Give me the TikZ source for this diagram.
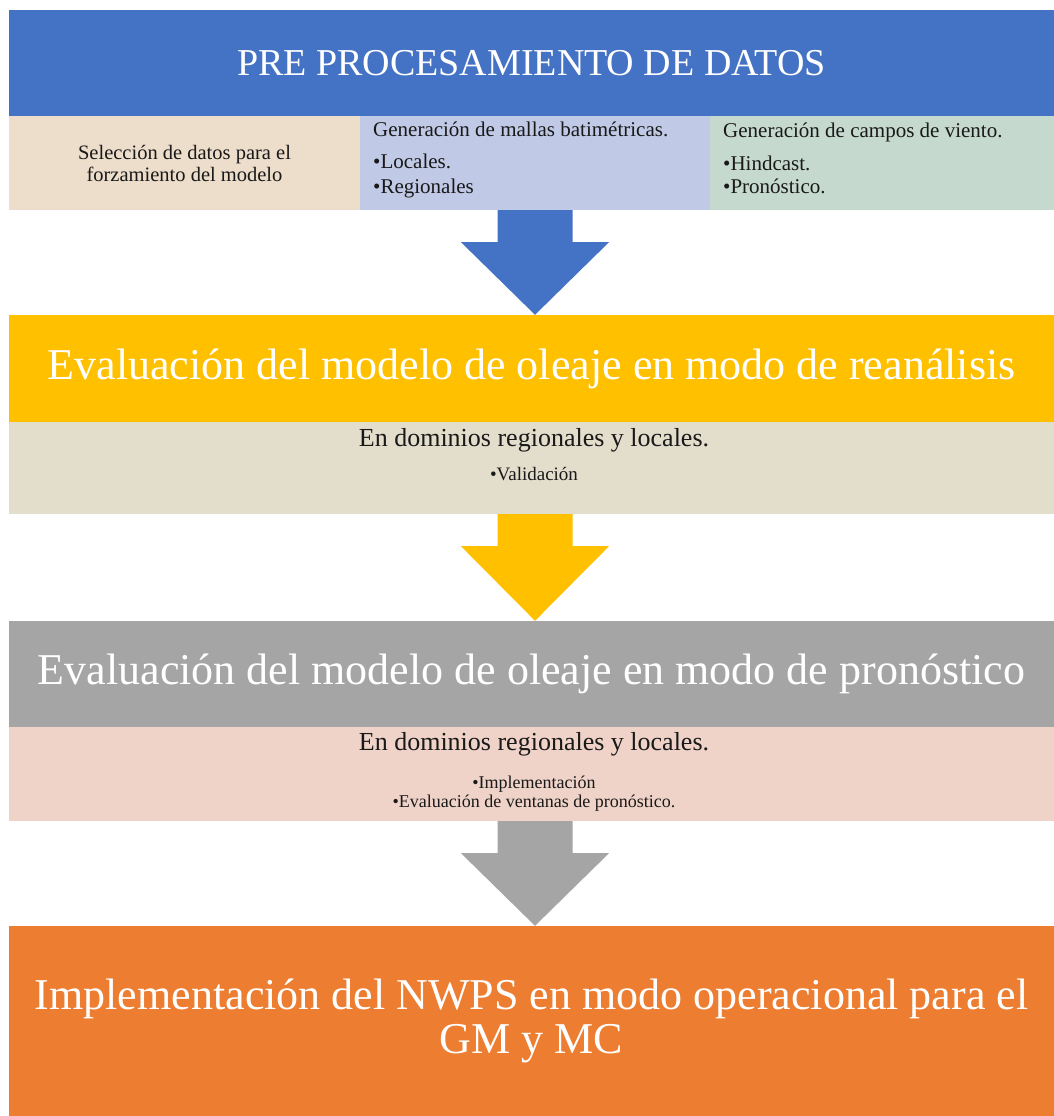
\documentclass[tikz,border=0pt]{standalone}
\usepackage{fontspec}
\setmainfont{Liberation Serif}
\usepackage{tikz}
\usetikzlibrary{calc}
\definecolor{azul}{HTML}{4472C4}
\definecolor{amarillo}{HTML}{FFC000}
\definecolor{gris}{HTML}{A5A5A5}
\definecolor{naranja}{HTML}{ED7D31}
\definecolor{beige}{HTML}{EDDDCB}
\definecolor{lavanda}{HTML}{C0CAE6}
\definecolor{verde}{HTML}{C6D9CF}
\definecolor{arena}{HTML}{E3DECB}
\definecolor{rosa}{HTML}{F0D3C8}
\newcommand{\tam}[2]{\fontsize{#1}{#2}\selectfont}
\newcommand{\flecha}[3]{\fill[#1] ($(#2)+(-37.5,0)$) -- ($(#2)+(37.5,0)$) -- ($(#2)+(37.5,32)$) -- ($(#2)+(74,32)$) -- (#3) -- ($(#2)+(-74,32)$) -- ($(#2)+(-37.5,32)$) -- cycle;}

\begin{document}
\begin{tikzpicture}[x=1pt, y=-1pt,
    banda/.style={fill=#1, text=white, inner sep=0pt, minimum width=1045pt, align=center, font=\tam{44}{44}},
    celda/.style={fill=#1, inner sep=0pt, minimum height=94pt},
    txt/.style={inner sep=0pt, text=black!90, font=\tam{21}{22}}]
    \useasboundingbox (0,0) rectangle (1054,1116);
    \fill[white] (0,0) rectangle (1054,1116);
    \node[banda=azul, minimum height=106pt, font=\tam{38}{40}] (pre) at (531.5,63) {PRE PROCESAMIENTO DE DATOS};
    \node[celda=beige, minimum width=351pt, txt, align=center, font=\tam{20.5}{22}] (sel) at (184.5,163) {Selección de datos para el\\forzamiento del modelo};
    \node[celda=lavanda, minimum width=350pt] (mallas) at (535,163) {};
    \node[celda=verde, minimum width=344pt] (viento) at (882,163) {};
    \node[txt, anchor=base west] (mallas1) at (373,136) {Generación de mallas batimétricas.};
    \node[txt, anchor=base west] (mallas2) at (373,168) {•Locales.};
    \node[txt, anchor=base west] (mallas3) at (373,193) {•Regionales};
    \node[txt, anchor=base west] (viento1) at (723,137) {Generación de campos de viento.};
    \node[txt, anchor=base west] (viento2) at (723,170) {•Hindcast.};
    \node[txt, anchor=base west] (viento3) at (723,193) {•Pronóstico.};
    \node[banda=amarillo, minimum height=107pt] (rea) at (531.5,368.5) {Evaluación del modelo de oleaje en modo de reanálisis};
    \node[celda=arena, minimum width=1045pt, minimum height=92pt] (reasub) at (531.5,468) {};
    \node[txt, anchor=base, font=\tam{26}{28}] (rea1) at (534,446) {En dominios regionales y locales.};
    \node[txt, anchor=base, font=\tam{19}{20}] (rea2) at (534,480) {•Validación};
    \node[banda=gris, minimum height=106pt] (pro) at (531.5,674) {Evaluación del modelo de oleaje en modo de pronóstico};
    \node[celda=rosa, minimum width=1045pt] (prosub) at (531.5,774) {};
    \node[txt, anchor=base, font=\tam{26}{28}] (pro1) at (534,750) {En dominios regionales y locales.};
    \node[txt, anchor=base, font=\tam{18}{20}] (pro2) at (534,788) {•Implementación};
    \node[txt, anchor=base, font=\tam{18}{20}] (pro3) at (534,807) {•Evaluación de ventanas de pronóstico.};
    \node[banda=naranja, minimum height=190pt] (nwps) at (531.5,1021) {Implementación del NWPS en modo operacional para el\\GM y MC};
    \coordinate (f2) at (reasub.south -| mallas);
    \coordinate (f3) at (prosub.south -| mallas);
    \flecha{azul}{mallas.south}{rea.north -| mallas}
    \flecha{amarillo}{f2}{pro.north -| mallas}
    \flecha{gris}{f3}{nwps.north -| mallas}
\end{tikzpicture}
\end{document}
